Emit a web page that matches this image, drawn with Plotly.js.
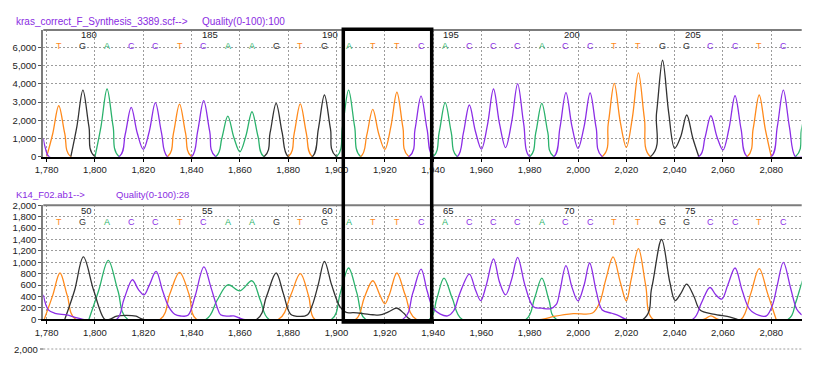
<!DOCTYPE html>
<html><head><meta charset="utf-8">
<script src="https://cdn.plot.ly/plotly-3.0.1.min.js"></script>
<style>html,body{margin:0;padding:0;background:#fff}#chart{width:816px;height:365px}</style>
</head><body><div id="chart"></div>
<script>
// ---------- data ----------
const bases = ["T","G","A","C","C","T","C","A","A","G","T","G","A","T","T","C","A","C","C","C","A","C","C","T","T","G","G","C","C","T","C"];
const basePos = [1785,1795,1805,1815,1825,1835,1845,1855,1865,1875,1885,1895,1905,1915,1925,1935,1945,1955,1965,1975,1985,1995,2005,2015,2025,2035,2045,2055,2065,2075,2085];
const numberPos = [1795,1845,1895,1945,1995,2045];
const topNumbers = ["180","185","190","195","200","205"];
const bottomNumbers = ["50","55","60","65","70","75"];
const xTicks = [1780,1800,1820,1840,1860,1880,1900,1920,1940,1960,1980,2000,2020,2040,2060,2080];
const topYTicks = [0,1000,2000,3000,4000,5000,6000];
const bottomYTicks = [0,200,400,600,800,1000,1200,1400,1600,1800,2000];
const topFile = "kras_correct_F_Synthesis_3389.scf-->";
const topQuality = "Quality(0-100):100";
const bottomFile = "K14_F02.ab1-->";
const bottomQuality = "Quality(0-100):28";
const nextPanelTick = "2,000";

// top trace (reference)
const topA_x = [1800,1802.5,1805,1807.5,1810, 1850,1852.5,1855,1857.5,1860,1862.5,1865,1867.5,1870, 1900,1902.5,1905,1907.5,1910, 1940,1942.5,1945,1947.5,1950, 1980,1982.5,1985,1987.5,1990, 2090,2092.5,2095];
const topA_y = [0,1670,3720,1670,0, 0,1000,2230,1050,270,1150,2470,1110,0, 0,1650,3660,1650,0, 0,1340,2970,1340,0, 0,1320,2930,1320,0, 0,1500,3200];
const topC_x = [1778.6,1779.5,1781, 1810,1812.5,1815,1817.5,1820,1822.5,1825,1827.5,1830, 1840,1842.5,1845,1847.5,1850, 1930,1932.5,1935,1937.5,1940, 1950,1952.5,1955,1957.5,1960,1962.5,1965,1967.5,1970,1972.5,1975,1977.5,1980, 1990,1992.5,1995,1997.5,2000,2002.5,2005,2007.5,2010, 2050,2052.5,2055,2057.5,2060,2062.5,2065,2067.5,2070, 2080,2082.5,2085,2087.5,2090,2093];
const topC_y = [1000,450,0, 0,1220,2710,1300,400,1400,2970,1340,0, 0,1390,3080,1390,0, 0,1500,3330,1500,0, 0,1280,2840,1400,420,1750,3720,1800,500,1900,4000,1800,0, 0,1580,3520,1650,460,1650,3500,1580,0, 0,1010,2250,1100,370,1550,3350,1510,0, 0,1650,3660,1650,0,0];
const topG_x = [1790,1792.5,1795,1797.5,1800, 1870,1872.5,1875,1877.5,1880, 1890,1892.5,1895,1897.5,1900, 2030,2032.5,2035,2037.5,2040,2042.5,2045,2047.5,2050];
const topG_y = [0,1650,3660,1650,0, 0,1320,2930,1320,0, 0,1530,3390,1530,0, 0,2400,5300,2450,460,1100,2290,1030,0];
const topT_x = [1780,1782.5,1785,1787.5,1790, 1830,1832.5,1835,1837.5,1840, 1880,1882.5,1885,1887.5,1890, 1910,1912.5,1915,1917.5,1920,1922.5,1925,1927.5,1930, 2010,2012.5,2015,2017.5,2020,2022.5,2025,2027.5,2030, 2070,2072.5,2075,2077.5,2080];
const topT_y = [0,1260,2800,1260,0, 0,1300,2890,1300,0, 0,1300,2900,1300,0, 0,1170,2600,1250,400,1650,3540,1600,0, 0,1810,4030,1900,515,2150,4600,2070,0, 0,1530,3390,1530,0];

// bottom trace (sample)
const botA_x = [1797.5,1801.5,1805.5,1809.5,1813.5, 1846,1850.5,1855,1860,1865,1868.5,1872, 1898,1901.5,1905,1908.5,1912, 1938.5,1941.5,1944.5,1948,1952, 1978.5,1982,1985,1988,1991, 2087,2090,2092.6,2095];
const botA_y = [0,500,1035,500,0, 0,330,605,500,676,330,0, 0,450,900,450,0, 0,360,723,360,0, 0,370,723,330,0, 0,280,635,900];
const botC_x = [1778.6,1780.7,1783.4,1788.3,1791.7,1795, 1809,1812,1815.5,1818,1820.3,1822.5,1825.3,1828,1830.5,1833,1835.5,1838.5,1841.4,1845.1,1848,1850.5,1852,1855,1857.5,1861.5, 1927.5,1931.5,1935,1937.5,1940,1943,1946,1948.5,1951,1955,1957.5,1959.7,1962,1965,1967.5,1970,1972.5,1975,1978,1981.5,1985,1988.5,1991,1992.5,1995,1997.5,2000,2002.5,2004.8,2007.5,2010,2014,2017,2020, 2047.5,2051,2054.6,2057,2059.5,2062,2065,2068,2071,2075,2078,2080.5,2082.5,2085,2088,2090.5,2092.6];
const botC_y = [430,164,106,76,35,0, 0,350,694,520,429,600,840,500,222,90,58,70,400,918,560,222,80,55,60,0, 0,450,882,500,194,90,60,150,450,794,520,328,600,1059,650,429,700,1088,600,222,195,185,260,500,941,560,323,600,988,500,164,106,60,0, 0,280,558,430,353,600,900,500,180,70,60,250,600,999,550,180,76];
const botG_x = [1787.5,1791.5,1795.2,1799.5,1804, 1806,1809,1813,1817,1820, 1867,1871,1875,1878,1881,1885,1888,1890,1892.5,1895,1898,1901.4,1904,1907,1911,1915,1918,1921.5,1925,1928,1930.5, 2027,2030.5,2034.6,2038,2040.2,2042.5,2045,2048,2050.5,2056,2063,2066];
const botG_y = [0,500,1094,500,0, 0,55,70,55,0, 0,400,812,450,90,50,80,250,620,1017,600,222,120,116,100,80,76,130,194,100,0, 0,550,1400,650,328,450,617,400,164,90,40,0];
const botT_x = [1779,1782.5,1785.5,1788.5,1792, 1827,1831,1835,1839,1842, 1876,1881,1885,1888.5,1891, 1908,1911.5,1915,1918,1920,1922,1925,1928.5,1933, 1985,1990,1998,2006,2009,2011.5,2014.5,2017.5,2020,2022,2025,2028,2031, 2052,2055,2058, 2067.5,2071.5,2075,2078.5,2082];
const botT_y = [0,420,812,420,0, 0,450,823,430,0, 0,420,800,400,0, 0,380,676,420,270,450,812,420,0, 0,50,100,110,300,700,1094,650,323,700,1241,600,0, 0,60,0, 0,450,888,450,0];

// ---------- styling ----------
const W = 816, H = 365;
const col = {A:"#2bb26c", C:"#8c2ee6", G:"#333333", T:"#ff8a1c"};
const px = v => v / W;
const py = v => 1 - v / H;
const fontFam = "Liberation Sans, Arial, sans-serif";

function tr(x, y, b, xa, ya) {
  return {x: x, y: y, type: "scatter", mode: "lines", xaxis: xa, yaxis: ya,
    line: {color: col[b], width: 1.3, shape: "spline", smoothing: 1},
    hoverinfo: "skip", showlegend: false};
}
const data = [
  tr(topA_x, topA_y, "A", "x", "y"), tr(topT_x, topT_y, "T", "x", "y"),
  tr(topG_x, topG_y, "G", "x", "y"), tr(topC_x, topC_y, "C", "x", "y"),
  tr(botA_x, botA_y, "A", "x2", "y2"), tr(botT_x, botT_y, "T", "x2", "y2"),
  tr(botG_x, botG_y, "G", "x2", "y2"), tr(botC_x, botC_y, "C", "x2", "y2")
];

const xBase = {
  domain: [px(43.3), px(801.7)], range: [1778.6, 2092.6],
  tickvals: xTicks, tickformat: ",", ticks: "outside", ticklen: 3, tickcolor: "#000",
  showgrid: true, gridcolor: "#9c9c9c", griddash: "2px,2px", gridwidth: 1,
  showline: true, linecolor: "#000", linewidth: 2, zeroline: false,
  tickfont: {family: fontFam, size: 9.5, color: "#222"}, fixedrange: true
};
const yBase = {
  tickformat: ",", ticks: "outside", ticklen: 3, tickcolor: "#555",
  showgrid: true, gridcolor: "#9c9c9c", griddash: "2px,2px", gridwidth: 1,
  showline: true, linecolor: "#7c7c7c", linewidth: 2, zeroline: false,
  tickfont: {family: fontFam, size: 9.5, color: "#222"}, fixedrange: true
};

const annotations = [];
function txt(x, y, t, color, size, anchor, xref) {
  annotations.push({x: x, y: y, xref: xref || "paper", yref: "paper", text: t, showarrow: false,
    xanchor: anchor || "left", yanchor: "middle", font: {family: fontFam, size: size, color: color}});
}
txt(px(14), py(22), topFile, "#8a2be2", 10);
txt(px(200), py(22), topQuality, "#8a2be2", 10);
txt(px(14), py(194), bottomFile, "#8a2be2", 9.5);
txt(px(114), py(194), bottomQuality, "#8a2be2", 9.5);
bases.forEach((b, i) => {
  txt(basePos[i], py(46), b, col[b], 9, "center", "x");
  txt(basePos[i], py(221.5), b, col[b], 9, "center", "x2");
});
numberPos.forEach((p, i) => {
  annotations.push({x: p, y: py(35), xref: "x", yref: "paper", text: topNumbers[i], showarrow: false,
    xanchor: "left", yanchor: "middle", xshift: -4, font: {family: fontFam, size: 9.5, color: "#222"}});
  annotations.push({x: p, y: py(211), xref: "x2", yref: "paper", text: bottomNumbers[i], showarrow: false,
    xanchor: "left", yanchor: "middle", xshift: -4, font: {family: fontFam, size: 9.5, color: "#222"}});
});
txt(px(40), py(349), nextPanelTick, "#222", 9.5, "right");

const shapes = [
  {type: "line", xref: "x domain", yref: "y domain", x0: 0, x1: 1, y0: 1, y1: 1, line: {color: "#7c7c7c", width: 2}},
  {type: "line", xref: "x2 domain", yref: "y2 domain", x0: 0, x1: 1, y0: 1, y1: 1, line: {color: "#7c7c7c", width: 2}},
  {type: "line", xref: "paper", yref: "paper", x0: px(43.3), x1: px(801.7), y0: py(349), y1: py(349), line: {color: "#9c9c9c", width: 1, dash: "2px,2px"}},
  {type: "line", xref: "paper", yref: "paper", x0: px(40), x1: px(43.3), y0: py(349), y1: py(349), line: {color: "#555", width: 1}},
  {type: "rect", xref: "paper", yref: "paper", x0: px(343.3), x1: px(431.7), y0: py(322), y1: py(29.3), line: {color: "#000", width: 3.5}}
];

const layout = {
  width: W, height: H, margin: {l: 0, r: 0, t: 0, b: 0},
  paper_bgcolor: "#fff", plot_bgcolor: "#fff", showlegend: false,
  font: {family: fontFam},
  xaxis: Object.assign({}, xBase, {anchor: "y"}),
  xaxis2: Object.assign({}, xBase, {anchor: "y2"}),
  yaxis: Object.assign({}, yBase, {anchor: "x", domain: [py(156.7), py(30)], range: [0, 6961], tickvals: topYTicks}),
  yaxis2: Object.assign({}, yBase, {anchor: "x2", domain: [py(319.3), py(205.3)], range: [0, 2000], tickvals: bottomYTicks}),
  annotations: annotations, shapes: shapes
};
Plotly.newPlot("chart", data, layout, {displayModeBar: false, staticPlot: true});
</script></body></html>
